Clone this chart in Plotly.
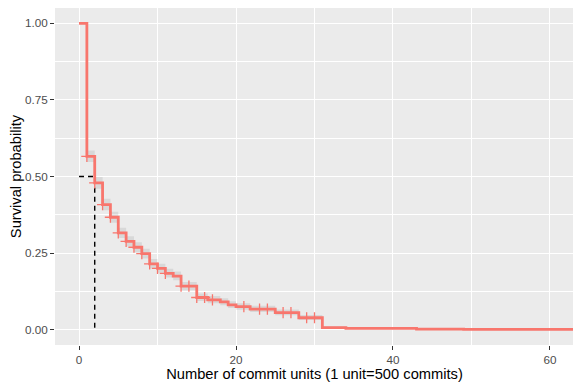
import numpy as np
import plotly.graph_objects as go

# Kaplan-Meier estimate
step_time = [0, 1, 2, 3, 4, 5, 6, 7, 8, 9, 10, 11, 12, 13, 15, 16.4, 18, 19, 20,
             21.8, 25, 28, 31, 34, 43, 49, 75]
surv = [1.000, 0.566, 0.479, 0.408, 0.367, 0.316, 0.288, 0.269, 0.248, 0.215, 0.200,
        0.184, 0.175, 0.142, 0.105, 0.097, 0.091, 0.081, 0.075, 0.067, 0.056, 0.039,
        0.007, 0.004, 0.002, 0.001, 0.001]
ci_hi = [1.000, 0.585, 0.498, 0.427, 0.385, 0.333, 0.305, 0.285, 0.264, 0.231, 0.215,
         0.199, 0.190, 0.156, 0.118, 0.110, 0.103, 0.093, 0.086, 0.078, 0.066, 0.048,
         0.011, 0.007, 0.004, 0.003, 0.003]
ci_lo = [1.000, 0.547, 0.460, 0.390, 0.349, 0.299, 0.272, 0.253, 0.232, 0.200, 0.186,
         0.170, 0.161, 0.129, 0.094, 0.086, 0.080, 0.071, 0.065, 0.058, 0.047, 0.032,
         0.004, 0.002, 0.001, 0.000, 0.000]
censor_time = [1, 2, 3, 4, 5, 6, 7, 8, 9, 10, 11, 13, 14, 15, 16, 17, 21, 23, 24,
               26, 27, 29, 30]
median_time = 2
median_surv = 0.5

x_ticks = [0, 20, 40, 60]
y_ticks = [0, 0.25, 0.5, 0.75, 1.0]

RED = '#F8766D'
FONT = 'Liberation Sans, Arial, sans-serif'

# survival value at each censor time (value after any step at that time)
idx = np.searchsorted(step_time, censor_time, side='right') - 1
censor_surv = [surv[i] for i in idx]

fig = go.Figure()

# confidence band
fig.add_trace(go.Scatter(x=step_time, y=ci_lo, mode='lines', line_shape='hv',
                         line=dict(width=0), hoverinfo='skip', showlegend=False))
fig.add_trace(go.Scatter(x=step_time, y=ci_hi, mode='lines', line_shape='hv',
                         line=dict(width=0), fill='tonexty',
                         fillcolor='rgba(140,140,140,0.2)', hoverinfo='skip',
                         showlegend=False))

# median lines
fig.add_trace(go.Scatter(x=[0, median_time, median_time], y=[median_surv, median_surv, 0],
                         mode='lines', line=dict(color='black', width=1.4, dash='5px,4px'),
                         showlegend=False))

# survival curve
fig.add_trace(go.Scatter(x=step_time, y=surv, mode='lines', line_shape='hv',
                         line=dict(color=RED, width=2.8), showlegend=False))

# censor marks
fig.add_trace(go.Scatter(x=censor_time, y=censor_surv, mode='markers',
                         marker=dict(symbol='cross-thin', size=8,
                                     line=dict(color=RED, width=1.3)),
                         showlegend=False))

fig.update_xaxes(range=[-3.06, 63.06], tickvals=x_ticks, ticks='outside', ticklen=4,
                 tickcolor='#333333', tickwidth=1.1,
                 tickfont=dict(family=FONT, size=11.7, color='#4D4D4D'),
                 showgrid=True, gridcolor='white', gridwidth=1.4, zeroline=False,
                 showline=False,
                 minor=dict(tickvals=[10, 30, 50], showgrid=True, gridcolor='white',
                            gridwidth=0.7, ticks=''),
                 title=dict(text='Number of commit units (1 unit=500 commits)',
                            font=dict(family=FONT, size=14.7, color='black'),
                            standoff=2))
fig.update_yaxes(range=[-0.05, 1.05], tickvals=y_ticks, tickformat='.2f',
                 ticks='outside', ticklen=4, tickcolor='#333333', tickwidth=1.1,
                 tickfont=dict(family=FONT, size=11.7, color='#4D4D4D'),
                 showgrid=True, gridcolor='white', gridwidth=1.4, zeroline=False,
                 showline=False,
                 minor=dict(tickvals=[0.125, 0.375, 0.625, 0.875], showgrid=True,
                            gridcolor='white', gridwidth=0.7, ticks=''),
                 title=dict(text='Survival probability',
                            font=dict(family=FONT, size=14.7, color='black'),
                            standoff=9))
# the page puts the figure 8px in from the top-left corner
fig.update_layout(width=573, height=380, plot_bgcolor='#EBEBEB', paper_bgcolor='white',
                  margin=dict(l=47, r=7, t=0, b=43, autoexpand=False))

fig.write_html('out.html')
